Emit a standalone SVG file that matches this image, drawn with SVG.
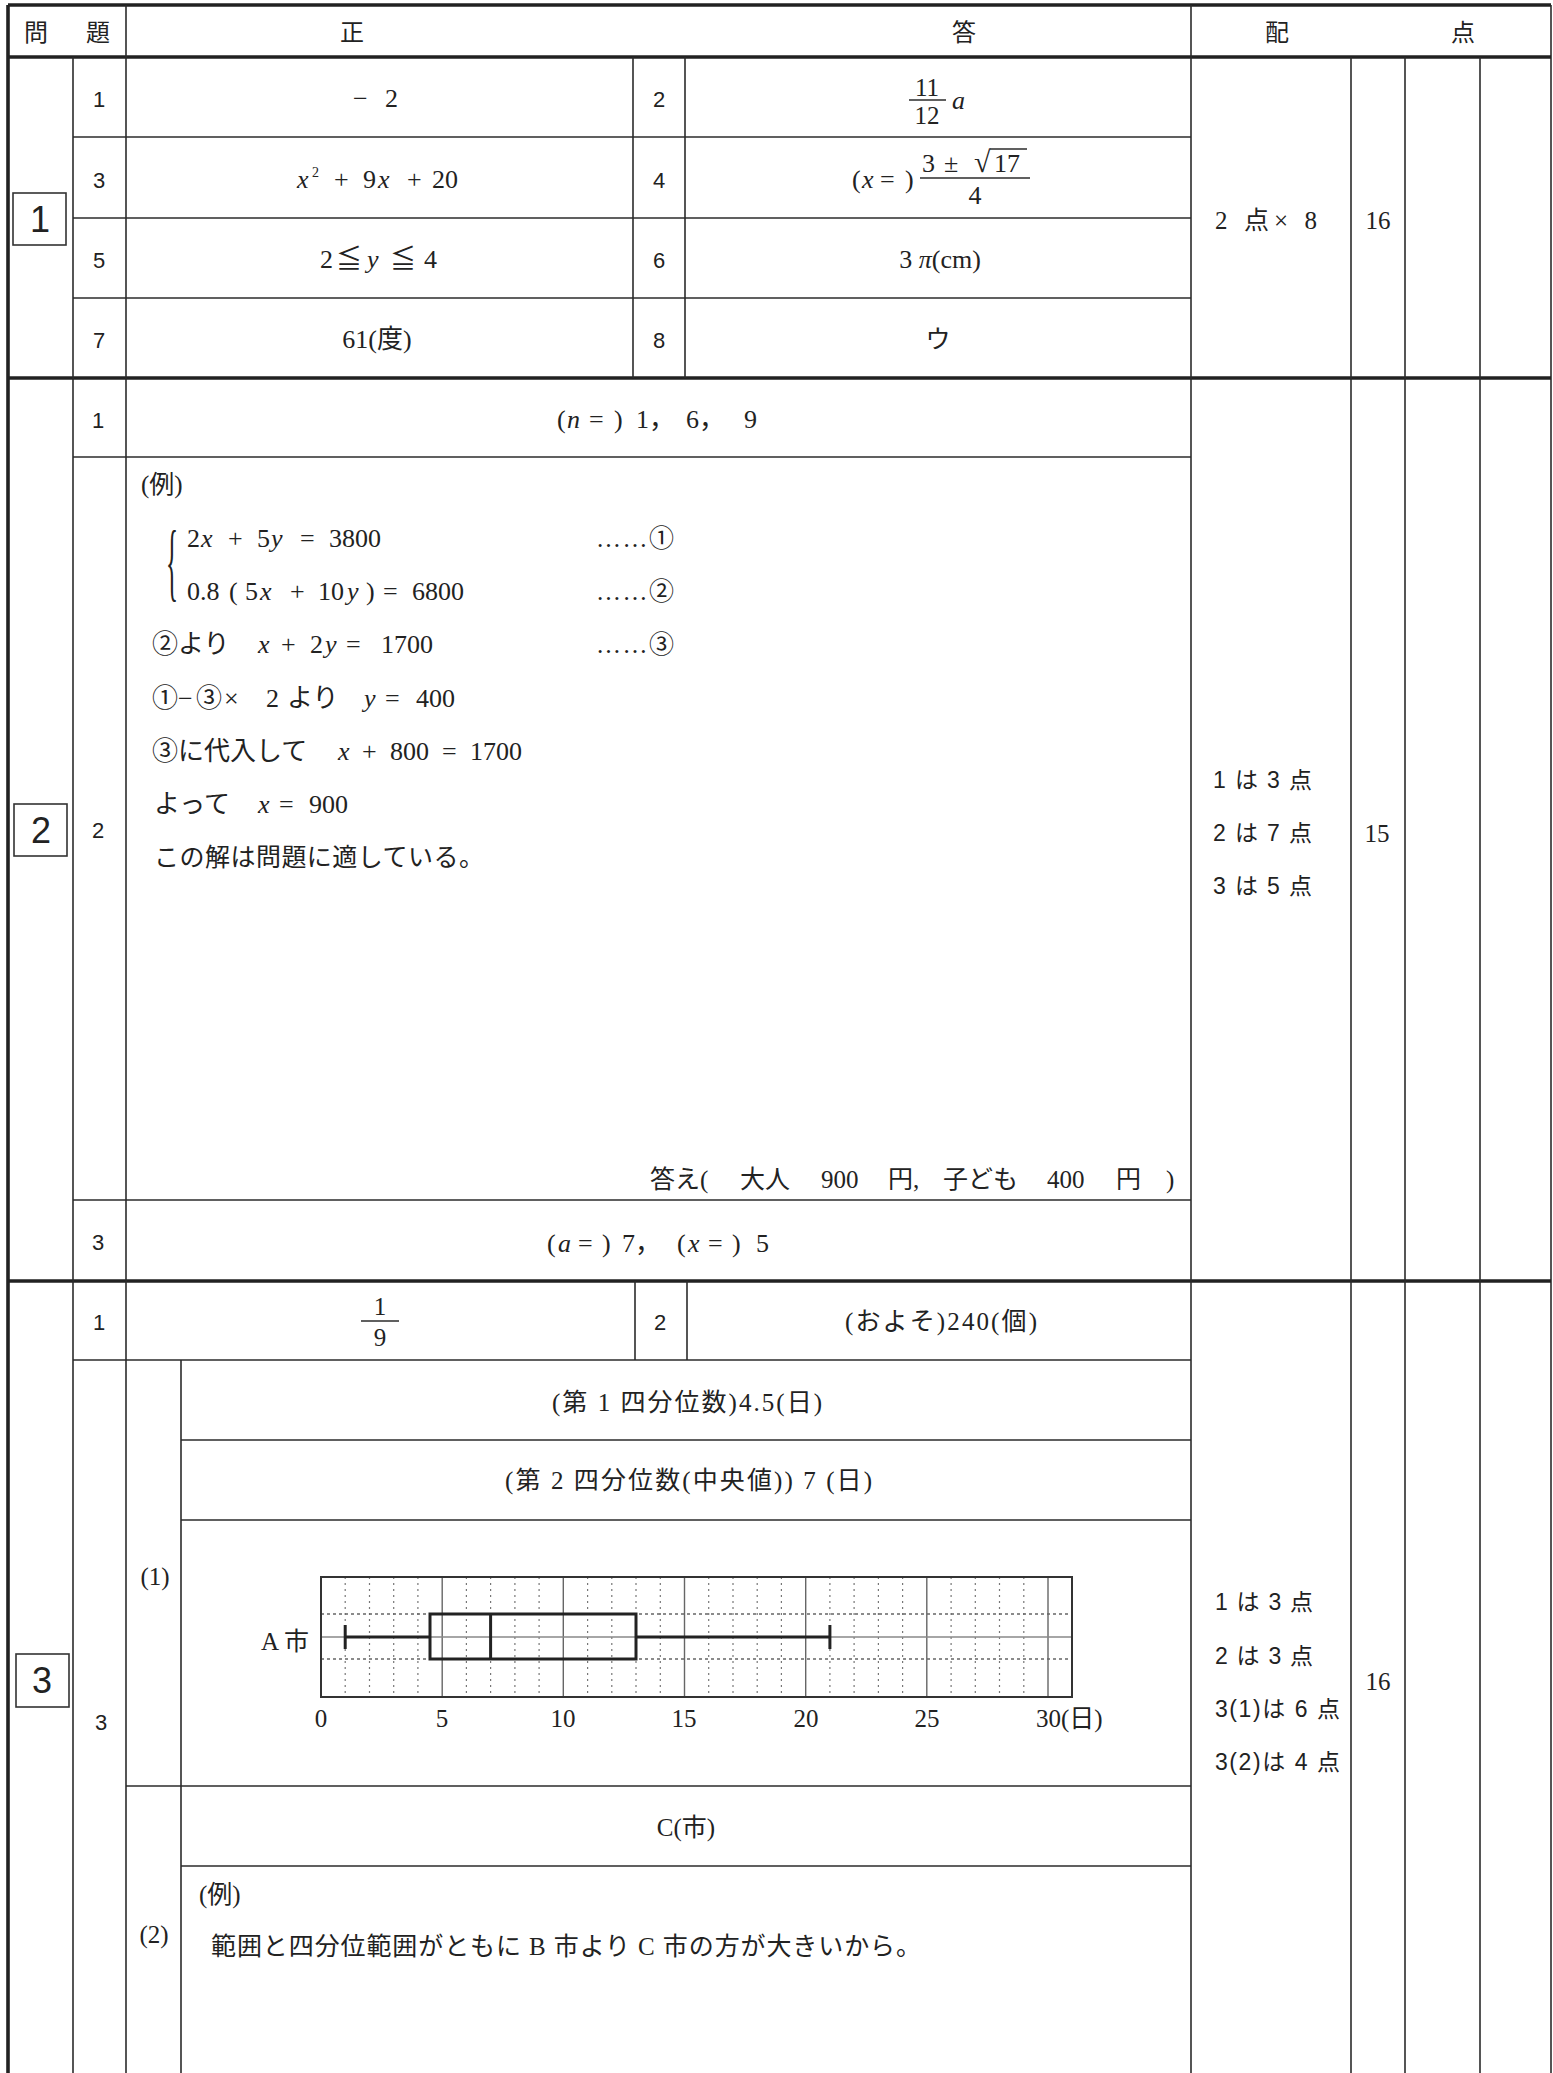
<svg xmlns="http://www.w3.org/2000/svg" width="1553" height="2073" viewBox="0 0 1553 2073">
<style>
.thin{stroke:#2b2b2b;stroke-width:1.6;fill:none}
.thick{stroke:#222;stroke-width:3.6;fill:none}
.m{font-family:"Liberation Serif","Noto Sans CJK JP",serif;font-size:25px;fill:#222}
.e{font-size:26px}
.hd{font-family:"Noto Sans CJK JP",sans-serif;font-size:24px;fill:#222;text-anchor:middle}
.n{font-family:"Liberation Sans","Noto Sans CJK JP",sans-serif;font-size:22px;fill:#222;text-anchor:middle}
.bx{font-family:"Liberation Sans",sans-serif;font-size:36px;fill:#222;text-anchor:middle}
.sc{font-family:"Liberation Sans","Noto Sans CJK JP",sans-serif;font-size:23px;fill:#222}
.c{text-anchor:middle}
.i{font-style:italic}
.minor{stroke:#777;stroke-width:1.2;stroke-dasharray:2 4;fill:none}
.major{stroke:#666;stroke-width:1.4;fill:none}
.hdash{stroke:#666;stroke-width:1.4;stroke-dasharray:3 3;fill:none}
.bp{stroke:#222;stroke-width:3;fill:none}
</style>
<rect x="0" y="0" width="1553" height="2073" fill="#fff"/>

<g id="connectors">
  <line class="thick" x1="8" y1="5" x2="1551" y2="5"/>
  <line class="thick" x1="8" y1="5" x2="8" y2="2073"/>
  <line class="thin" x1="1551" y1="5" x2="1551" y2="2073"/>
  <line class="thick" x1="8" y1="57" x2="1551" y2="57"/>
  <line class="thick" x1="8" y1="378" x2="1551" y2="378"/>
  <line class="thick" x1="8" y1="1281" x2="1551" y2="1281"/>
  <line class="thin" x1="73" y1="57" x2="73" y2="2073"/>
  <line class="thin" x1="126" y1="5" x2="126" y2="2073"/>
  <line class="thin" x1="1191" y1="5" x2="1191" y2="2073"/>
  <line class="thin" x1="1351" y1="57" x2="1351" y2="2073"/>
  <line class="thin" x1="1405" y1="57" x2="1405" y2="2073"/>
  <line class="thin" x1="1480" y1="57" x2="1480" y2="2073"/>
  <line class="thin" x1="633" y1="57" x2="633" y2="378"/>
  <line class="thin" x1="685" y1="57" x2="685" y2="378"/>
  <line class="thin" x1="73" y1="137" x2="1191" y2="137"/>
  <line class="thin" x1="73" y1="218" x2="1191" y2="218"/>
  <line class="thin" x1="73" y1="298" x2="1191" y2="298"/>
  <line class="thin" x1="73" y1="457" x2="1191" y2="457"/>
  <line class="thin" x1="73" y1="1200" x2="1191" y2="1200"/>
  <line class="thin" x1="635" y1="1281" x2="635" y2="1360"/>
  <line class="thin" x1="687" y1="1281" x2="687" y2="1360"/>
  <line class="thin" x1="73" y1="1360" x2="1191" y2="1360"/>
  <line class="thin" x1="181" y1="1360" x2="181" y2="2073"/>
  <line class="thin" x1="181" y1="1440" x2="1191" y2="1440"/>
  <line class="thin" x1="181" y1="1520" x2="1191" y2="1520"/>
  <line class="thin" x1="126" y1="1786" x2="1191" y2="1786"/>
  <line class="thin" x1="181" y1="1866" x2="1191" y2="1866"/>
</g>

<g id="header">
  <text class="hd" x="36" y="41">問</text>
  <text class="hd" x="98" y="41">題</text>
  <text class="hd" x="352" y="41">正</text>
  <text class="hd" x="964" y="41">答</text>
  <text class="hd" x="1277" y="41">配</text>
  <text class="hd" x="1463" y="41">点</text>
</g>

<g id="section1">
  <rect x="13" y="193" width="53" height="52" fill="none" stroke="#333" stroke-width="1.6"/>
  <text class="bx" x="40" y="232">1</text>
  <text class="n" x="99" y="107">1</text>
  <text class="n" x="99" y="188">3</text>
  <text class="n" x="99" y="268">5</text>
  <text class="n" x="99" y="348">7</text>
  <text class="n" x="659" y="107">2</text>
  <text class="n" x="659" y="188">4</text>
  <text class="n" x="659" y="268">6</text>
  <text class="n" x="659" y="348">8</text>
  <text class="m e" x="353" y="107">−<tspan x="385">2</tspan></text>
  <text class="m e" x="297" y="188"><tspan class="i">x</tspan><tspan x="312" y="177" font-size="14">2</tspan><tspan x="334" y="188">+</tspan><tspan x="363">9</tspan><tspan class="i" x="378">x</tspan><tspan x="407">+</tspan><tspan x="432">20</tspan></text>
  <text class="m e" x="320" y="268">2<tspan x="336">≦</tspan><tspan class="i" x="367">y</tspan><tspan x="390">≦</tspan><tspan x="424">4</tspan></text>
  <text class="m e c" x="377" y="348">61(度)</text>
  <text class="m c" x="927" y="96" font-size="24">11</text>
  <line class="thin" x1="909" y1="100" x2="946" y2="100"/>
  <text class="m c" x="927" y="124" font-size="24">12</text>
  <text class="m e i" x="952" y="109">a</text>
  <text class="m e" x="852" y="188">(<tspan class="i" x="862">x</tspan><tspan x="880">=</tspan><tspan x="905">)</tspan></text>
  <text class="m e" x="922" y="172">3<tspan x="944">±</tspan><tspan x="974" font-size="30">√</tspan><tspan x="994">17</tspan></text>
  <line class="thin" x1="990" y1="149" x2="1027" y2="149"/>
  <line class="thin" x1="920" y1="178" x2="1030" y2="178"/>
  <text class="m e c" x="975" y="204">4</text>
  <text class="m e c" x="940" y="268">3 <tspan class="i">π</tspan>(cm)</text>
  <text class="m c" x="938" y="348" font-family="Noto Sans CJK JP">ウ</text>
  <text class="m" x="1215" y="229" textLength="102">2 点× 8</text>
  <text class="m c" x="1378" y="229">16</text>
</g>

<g id="section2">
  <rect x="14" y="804" width="53" height="52" fill="none" stroke="#333" stroke-width="1.6"/>
  <text class="bx" x="41" y="843">2</text>
  <text class="n" x="98" y="428">1</text>
  <text class="n" x="98" y="838">2</text>
  <text class="n" x="98" y="1250">3</text>
  <text class="m e" x="557" y="428">(<tspan class="i" x="567">n</tspan><tspan x="589">=</tspan><tspan x="614">)</tspan><tspan x="636">1，</tspan><tspan x="686">6，</tspan><tspan x="744">9</tspan></text>
  <text class="m" x="141" y="493" font-size="22">(例)</text>
  <text class="m" x="0" y="0" font-size="30" transform="translate(166,590) scale(1,3.5)">{</text>
  <text class="m e" x="187" y="547">2<tspan class="i" x="201">x</tspan><tspan x="228">+</tspan><tspan x="257">5</tspan><tspan class="i" x="271">y</tspan><tspan x="300">=</tspan><tspan x="329">3800</tspan></text>
  <text class="m e" x="187" y="600">0.8<tspan x="229">(</tspan><tspan x="245">5</tspan><tspan class="i" x="260">x</tspan><tspan x="290">+</tspan><tspan x="318">10</tspan><tspan class="i" x="347">y</tspan><tspan x="366">)</tspan><tspan x="383">=</tspan><tspan x="412">6800</tspan></text>
  <text class="m" x="596" y="547" textLength="78">……①</text>
  <text class="m" x="596" y="600" textLength="78">……②</text>
  <text class="m" x="596" y="653" textLength="78">……③</text>
  <text class="m e" x="152" y="653">②より<tspan class="i" x="258">x</tspan><tspan x="281">+</tspan><tspan x="310">2</tspan><tspan class="i" x="325">y</tspan><tspan x="346">=</tspan><tspan x="381">1700</tspan></text>
  <text class="m e" x="152" y="707">①<tspan x="178">−</tspan><tspan x="196">③</tspan><tspan x="224">×</tspan><tspan x="266">2</tspan><tspan x="287">より</tspan><tspan class="i" x="364">y</tspan><tspan x="385">=</tspan><tspan x="416">400</tspan></text>
  <text class="m e" x="152" y="760">③に代入して<tspan class="i" x="338">x</tspan><tspan x="362">+</tspan><tspan x="390">800</tspan><tspan x="442">=</tspan><tspan x="470">1700</tspan></text>
  <text class="m e" x="154" y="813">よって<tspan class="i" x="258">x</tspan><tspan x="279">=</tspan><tspan x="309">900</tspan></text>
  <text class="m" x="154" y="866" textLength="330">この解は問題に適している。</text>
  <text class="m" x="650" y="1188">答え(</text>
  <text class="m" x="740" y="1188">大人</text>
  <text class="m" x="821" y="1188">900</text>
  <text class="m" x="888" y="1188">円,</text>
  <text class="m" x="943" y="1188">子ども</text>
  <text class="m" x="1047" y="1188">400</text>
  <text class="m" x="1116" y="1188">円</text>
  <text class="m" x="1166" y="1188">)</text>
  <text class="m e" x="547" y="1252">(<tspan class="i" x="558">a</tspan><tspan x="578">=</tspan><tspan x="602">)</tspan><tspan x="622">7，</tspan><tspan x="677">(</tspan><tspan class="i" x="688">x</tspan><tspan x="708">=</tspan><tspan x="732">)</tspan><tspan x="756">5</tspan></text>
  <text class="sc" x="1213" y="788" textLength="99">1 は 3 点</text>
  <text class="sc" x="1213" y="841" textLength="99">2 は 7 点</text>
  <text class="sc" x="1213" y="894" textLength="99">3 は 5 点</text>
  <text class="m c" x="1377" y="842">15</text>
</g>

<g id="section3">
  <rect x="16" y="1654" width="53" height="53" fill="none" stroke="#333" stroke-width="1.6"/>
  <text class="bx" x="42" y="1693">3</text>
  <text class="n" x="99" y="1330">1</text>
  <text class="n" x="101" y="1730">3</text>
  <text class="m c" x="380" y="1315" font-size="24">1</text>
  <line class="thin" x1="361" y1="1321" x2="399" y2="1321"/>
  <text class="m c" x="380" y="1346" font-size="24">9</text>
  <text class="n" x="660" y="1330">2</text>
  <text class="m" x="845" y="1330" textLength="192">(およそ)240(個)</text>
  <text class="m" x="552" y="1411" textLength="270">(第 1 四分位数)4.5(日)</text>
  <text class="m" x="505" y="1489" textLength="367">(第 2 四分位数(中央値)) 7 (日)</text>
  <text class="m c" x="155" y="1585" font-size="22">(1)</text>
  <text class="m c" x="686" y="1836">C(市)</text>
  <text class="m c" x="154" y="1943" font-size="22">(2)</text>
  <text class="m" x="199" y="1903" font-size="22">(例)</text>
  <text class="m" x="211" y="1955" textLength="710">範囲と四分位範囲がともに B 市より C 市の方が大きいから。</text>
  <text class="sc" x="1215" y="1610" textLength="98">1 は 3 点</text>
  <text class="sc" x="1215" y="1664" textLength="98">2 は 3 点</text>
  <text class="sc" x="1215" y="1717" textLength="125">3(1)は 6 点</text>
  <text class="sc" x="1215" y="1770" textLength="125">3(2)は 4 点</text>
  <text class="m c" x="1378" y="1690">16</text>
</g>

<g id="chart">
  <path class="minor" d="M345.2 1577V1697M369.5 1577V1697M393.7 1577V1697M417.9 1577V1697M466.4 1577V1697M490.6 1577V1697M514.9 1577V1697M539.1 1577V1697M587.6 1577V1697M611.8 1577V1697M636 1577V1697M660.3 1577V1697M708.7 1577V1697M733 1577V1697M757.2 1577V1697M781.4 1577V1697M829.9 1577V1697M854.1 1577V1697M878.4 1577V1697M902.6 1577V1697M951.1 1577V1697M975.3 1577V1697M999.5 1577V1697M1023.8 1577V1697"/>
  <path class="major" d="M442.2 1577V1697M563.3 1577V1697M684.5 1577V1697M805.7 1577V1697M926.8 1577V1697M1048 1577V1697"/>
  <path class="hdash" d="M321 1614H1072M321 1659H1072"/>
  <line x1="321" y1="1637" x2="1072" y2="1637" stroke="#888" stroke-width="1.6"/>
  <rect x="321" y="1577" width="751" height="120" fill="none" stroke="#333" stroke-width="2"/>
  <rect x="430" y="1614" width="206" height="45" fill="none" stroke="#222" stroke-width="3"/>
  <line class="bp" x1="490.6" y1="1614" x2="490.6" y2="1659"/>
  <line class="bp" x1="345.2" y1="1637" x2="430" y2="1637"/>
  <line class="bp" x1="636" y1="1637" x2="829.9" y2="1637"/>
  <line class="bp" x1="345.2" y1="1625" x2="345.2" y2="1649"/>
  <line class="bp" x1="829.9" y1="1625" x2="829.9" y2="1649"/>
  <text class="m" x="261" y="1650" font-size="26">A 市</text>
  <text class="m c" x="321" y="1727" font-size="26">0</text>
  <text class="m c" x="442" y="1727" font-size="26">5</text>
  <text class="m c" x="563" y="1727" font-size="26">10</text>
  <text class="m c" x="684" y="1727" font-size="26">15</text>
  <text class="m c" x="806" y="1727" font-size="26">20</text>
  <text class="m c" x="927" y="1727" font-size="26">25</text>
  <text class="m" x="1036" y="1727" font-size="26">30(日)</text>
</g>
</svg>
